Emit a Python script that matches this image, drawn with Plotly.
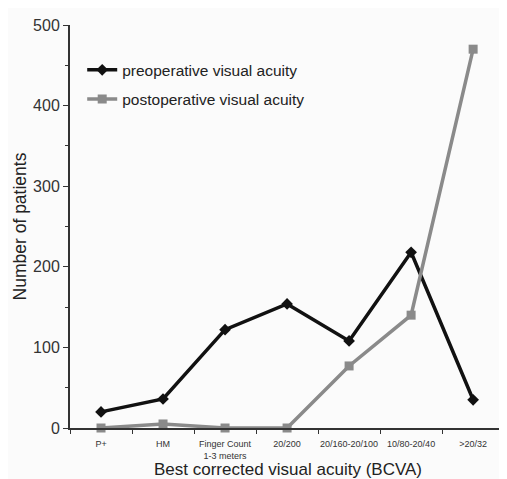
import plotly.graph_objects as go

categories = ["P+", "HM", "Finger Count<br>1-3 meters", "20/200", "20/160-20/100", "10/80-20/40", ">20/32"]
preop = [20, 36, 122, 154, 108, 218, 35]
postop = [0, 5, 0, 0, 77, 140, 470]
y_ticks = [0, 100, 200, 300, 400, 500]

fig = go.Figure()
fig.add_trace(go.Scatter(
    x=categories, y=preop, mode="lines+markers", name="preoperative visual acuity",
    legendgroup="pre",
    line=dict(color="#111111", width=3.5), marker=dict(symbol="diamond", size=9, color="#111111"),
    cliponaxis=False))
fig.add_trace(go.Scatter(
    x=categories, y=postop, mode="lines+markers", name="postoperative visual acuity",
    legendgroup="post",
    line=dict(color="#8a8a8a", width=3.5), marker=dict(symbol="square", size=9, color="#8a8a8a"),
    cliponaxis=False))

fig.update_layout(
    width=507, height=479,
    margin=dict(l=62, r=9, t=17, b=59, autoexpand=False),
    paper_bgcolor="#fbfbfb", plot_bgcolor="#fbfbfb",
    font=dict(family="Liberation Sans, Arial, sans-serif", color="#222222"),
    showlegend=True,
    legend=dict(x=0.028, y=0.93, xanchor="left", yanchor="top", bgcolor="rgba(0,0,0,0)",
                font=dict(size=15.5, color="#222222"), itemwidth=30, tracegroupgap=6),
    xaxis=dict(
        type="category", range=[-0.5, 6.53], showgrid=False, zeroline=False,
        showline=True, linecolor="#333333", linewidth=2, automargin=False,
        ticks="outside", tickson="boundaries", ticklen=4, tickcolor="#333333",
        tickangle=0, tickfont=dict(size=9, color="#333333"), ticklabelstandoff=6,
        title=dict(text="Best corrected visual acuity (BCVA)", font=dict(size=17), standoff=0),
    ),
    yaxis=dict(
        range=[0, 500], tickvals=y_ticks, showgrid=False, zeroline=False,
        showline=True, linecolor="#333333", linewidth=2, automargin=False,
        ticks="outside", ticklen=5, tickcolor="#333333",
        tickfont=dict(size=16, color="#333333"),
        minor=dict(dtick=50, ticks="outside", ticklen=3, tickcolor="#333333"),
        title=dict(text="Number of patients", font=dict(size=17.5), standoff=2),
    ),
)

fig.write_html("out.html")
